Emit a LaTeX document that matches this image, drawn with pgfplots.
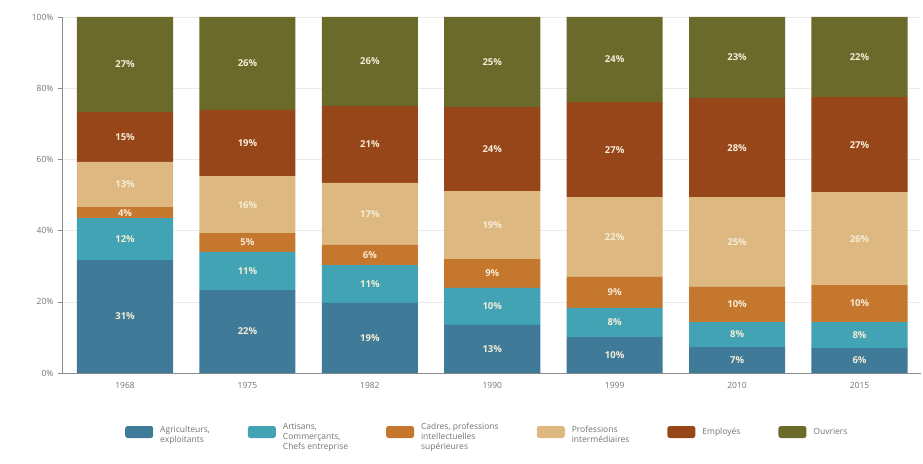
\documentclass[border=0pt]{standalone}
\usepackage{pgfplots}
\pgfplotsset{compat=1.18}
\usepackage{pgfplotstable}
\usepackage{fontspec}
\setmainfont{Open Sans}
\definecolor{cagri}{HTML}{3F7B99}
\definecolor{cart}{HTML}{41A3B4}
\definecolor{ccad}{HTML}{C6772E}
\definecolor{cprof}{HTML}{DDB880}
\definecolor{cemp}{HTML}{974619}
\definecolor{couv}{HTML}{6A6A2B}
\definecolor{labcol}{HTML}{F5EDD6}
\definecolor{axcol}{HTML}{8C8C8C}
\pgfplotstableread{
x agri art cad prof emp ouv
0 31.7 11.8 3.1 12.7 14.0 26.7
1 23.3 10.7 5.3 16.0 18.6 26.1
2 19.7 10.6 5.7 17.4 21.6 25.0
3 13.5 10.4 8.1 19.1 23.6 25.3
4 10.1 8.2 8.7 22.4 26.7 23.9
5 7.3 7.0 9.9 25.2 27.8 22.8
6 7.0 7.3 10.4 26.1 26.7 22.5
}\datatable
\pgfplotstableread{
x y lab
0 15.85 31
0 37.6 12
0 45.05 4
0 52.95 13
0 66.3 15
0 86.65 27
1 11.65 22
1 28.65 11
1 36.65 5
1 47.3 16
1 64.6 19
1 86.95 26
2 9.85 19
2 25.0 11
2 33.15 6
2 44.7 17
2 64.2 21
2 87.5 26
3 6.75 13
3 18.7 10
3 27.95 9
3 41.55 19
3 62.9 24
3 87.35 25
4 5.05 10
4 14.2 8
4 22.65 9
4 38.2 22
4 62.75 27
4 88.05 24
5 3.65 7
5 10.8 8
5 19.25 10
5 36.8 25
5 63.3 28
5 88.6 23
6 3.5 6
6 10.65 8
6 19.5 10
6 37.75 26
6 64.15 27
6 88.75 22
}\labtable
\pgfplotsset{
  myleg/.style={legend image code/.code={\fill[##1, draw=none, rounded corners=2.5pt] (0pt,-6pt) rectangle (28pt,6pt);}},
  common/.style={scale only axis, width=858.7pt, height=356pt,
    xmin=-0.515, xmax=6.5, ymin=0, ymax=100},
}
\begin{document}
\begin{tikzpicture}
\begin{axis}[common, name=main,
  ybar stacked, bar width=0.785,
  axis x line*=bottom, axis y line*=left,
  axis line style={axcol, line width=0.6pt, -},
  ytick={0,20,...,100},
  yticklabel={\pgfmathprintnumber{\tick}\%},
  xtick={0,...,6},
  xticklabels={1968,1975,1982,1990,1999,2010,2015},
  minor xtick={0.5,1.5,...,5.5},
  tick align=outside,
  major tick length=4pt, minor tick length=3pt,
  ytick style={axcol, line width=0.5pt},
  xtick style={draw=none},
  minor x tick style={axcol, line width=0.5pt},
  ymajorgrids, grid style={black!8, line width=0.5pt},
  tick label style={font=\fontsize{8.5}{9}\selectfont, text=black!55},
  /pgf/number format/assume math mode=true,
  xticklabel style={yshift=-2pt},
  yticklabel style={xshift=-1pt},
  legend columns=6,
  legend style={at={(0.5,0)}, anchor=center, yshift=-59pt, xshift=-4pt,
    draw=none, fill=none, font=\fontsize{8.5}{10}\selectfont, text=black!55,
    /tikz/every even column/.append style={column sep=36pt},
    /tikz/every odd column/.append style={column sep=5pt}},
  legend cell align=left,
]
\addplot[fill=cagri, draw=none, myleg] table[x=x,y=agri]{\datatable};
\addlegendentry{\begin{tabular}{@{}l@{}}Agriculteurs,\\exploitants\end{tabular}}
\addplot[fill=cart, draw=none, myleg] table[x=x,y=art]{\datatable};
\addlegendentry{\begin{tabular}{@{}l@{}}Artisans,\\Commerçants,\\Chefs entreprise\end{tabular}}
\addplot[fill=ccad, draw=none, myleg] table[x=x,y=cad]{\datatable};
\addlegendentry{\begin{tabular}{@{}l@{}}Cadres, professions\\intellectuelles\\supérieures\end{tabular}}
\addplot[fill=cprof, draw=none, myleg] table[x=x,y=prof]{\datatable};
\addlegendentry{\begin{tabular}{@{}l@{}}Professions\\intermédiaires\end{tabular}}
\addplot[fill=cemp, draw=none, myleg] table[x=x,y=emp]{\datatable};
\addlegendentry{Employés}
\addplot[fill=couv, draw=none, myleg] table[x=x,y=ouv]{\datatable};
\addlegendentry{Ouvriers}
\end{axis}
\begin{axis}[common, hide axis]
\addplot[draw=none, mark=none, point meta=explicit symbolic,
  nodes near coords={\pgfplotspointmeta\%},
  every node near coord/.append style={anchor=center, text=labcol,
    font=\fontsize{9.5}{10}\selectfont\bfseries}]
  table[x=x,y=y,meta=lab]{\labtable};
\end{axis}
\pgfresetboundingbox
\path (main.south west) ++(-62pt,-90pt) rectangle ++(923pt,463pt);
\end{tikzpicture}
\end{document}
